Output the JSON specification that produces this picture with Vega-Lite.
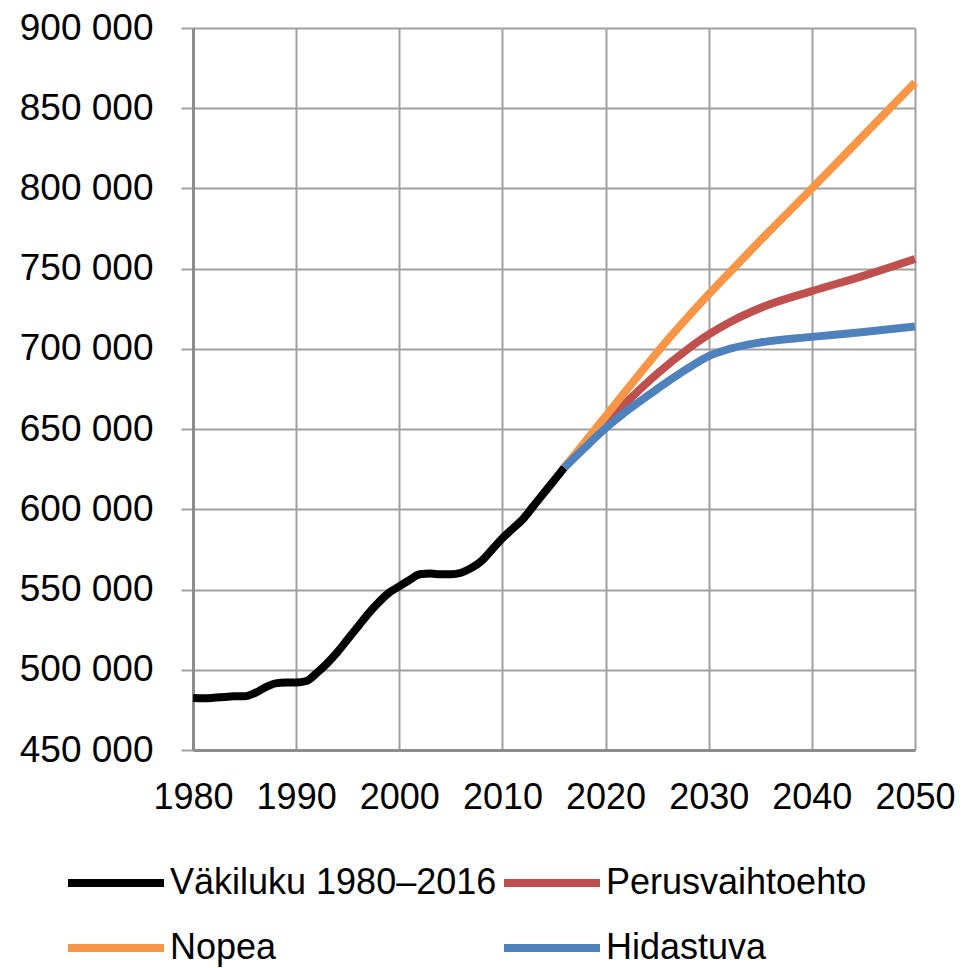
{
  "$schema": "https://vega.github.io/schema/vega-lite/v6.json",
  "width": 722,
  "height": 722,
  "autosize": {"type": "none"},
  "padding": {"left": 193, "top": 28, "right": 61, "bottom": 218},
  "background": "white",
  "config": {
    "view": {"stroke": null},
    "font": "Liberation Sans, Arial",
    "axis": {
      "labelFont": "Liberation Sans, Arial",
      "labelFontSize": 36,
      "labelColor": "#000000",
      "gridColor": "#a0a0a0",
      "gridWidth": 2,
      "gridOpacity": 1,
      "domainColor": "#8c8c8c",
      "domainWidth": 3,
      "tickColor": "#a0a0a0",
      "tickWidth": 2,
      "title": null
    }
  },
  "datasets": {
    "pop": [
      {"series": "Väkiluku 1980–2016", "year": 1980, "value": 482400},
      {"series": "Väkiluku 1980–2016", "year": 1981, "value": 482200},
      {"series": "Väkiluku 1980–2016", "year": 1982, "value": 482500},
      {"series": "Väkiluku 1980–2016", "year": 1983, "value": 483000},
      {"series": "Väkiluku 1980–2016", "year": 1984, "value": 483500},
      {"series": "Väkiluku 1980–2016", "year": 1985, "value": 483500},
      {"series": "Väkiluku 1980–2016", "year": 1986, "value": 485500},
      {"series": "Väkiluku 1980–2016", "year": 1987, "value": 489000},
      {"series": "Väkiluku 1980–2016", "year": 1988, "value": 491500},
      {"series": "Väkiluku 1980–2016", "year": 1989, "value": 492000},
      {"series": "Väkiluku 1980–2016", "year": 1990, "value": 492000},
      {"series": "Väkiluku 1980–2016", "year": 1991, "value": 493000},
      {"series": "Väkiluku 1980–2016", "year": 1992, "value": 498000},
      {"series": "Väkiluku 1980–2016", "year": 1993, "value": 504000},
      {"series": "Väkiluku 1980–2016", "year": 1994, "value": 511000},
      {"series": "Väkiluku 1980–2016", "year": 1995, "value": 519000},
      {"series": "Väkiluku 1980–2016", "year": 1996, "value": 527000},
      {"series": "Väkiluku 1980–2016", "year": 1997, "value": 535000},
      {"series": "Väkiluku 1980–2016", "year": 1998, "value": 542000},
      {"series": "Väkiluku 1980–2016", "year": 1999, "value": 548000},
      {"series": "Väkiluku 1980–2016", "year": 2000, "value": 552000},
      {"series": "Väkiluku 1980–2016", "year": 2001, "value": 556000},
      {"series": "Väkiluku 1980–2016", "year": 2002, "value": 559500},
      {"series": "Väkiluku 1980–2016", "year": 2003, "value": 560000},
      {"series": "Väkiluku 1980–2016", "year": 2004, "value": 559500},
      {"series": "Väkiluku 1980–2016", "year": 2005, "value": 559500},
      {"series": "Väkiluku 1980–2016", "year": 2006, "value": 560500},
      {"series": "Väkiluku 1980–2016", "year": 2007, "value": 563500},
      {"series": "Väkiluku 1980–2016", "year": 2008, "value": 568000},
      {"series": "Väkiluku 1980–2016", "year": 2009, "value": 575000},
      {"series": "Väkiluku 1980–2016", "year": 2010, "value": 582000},
      {"series": "Väkiluku 1980–2016", "year": 2011, "value": 588000},
      {"series": "Väkiluku 1980–2016", "year": 2012, "value": 594000},
      {"series": "Väkiluku 1980–2016", "year": 2013, "value": 602000},
      {"series": "Väkiluku 1980–2016", "year": 2014, "value": 610000},
      {"series": "Väkiluku 1980–2016", "year": 2015, "value": 618000},
      {"series": "Väkiluku 1980–2016", "year": 2016, "value": 626000},
      {"series": "Perusvaihtoehto", "year": 2016, "value": 626000},
      {"series": "Perusvaihtoehto", "year": 2018, "value": 640000},
      {"series": "Perusvaihtoehto", "year": 2020, "value": 653500},
      {"series": "Perusvaihtoehto", "year": 2022, "value": 666500},
      {"series": "Perusvaihtoehto", "year": 2025, "value": 684500},
      {"series": "Perusvaihtoehto", "year": 2028, "value": 700000},
      {"series": "Perusvaihtoehto", "year": 2030, "value": 709000},
      {"series": "Perusvaihtoehto", "year": 2032, "value": 716500},
      {"series": "Perusvaihtoehto", "year": 2035, "value": 725500},
      {"series": "Perusvaihtoehto", "year": 2040, "value": 736000},
      {"series": "Perusvaihtoehto", "year": 2045, "value": 745500},
      {"series": "Perusvaihtoehto", "year": 2050, "value": 756000},
      {"series": "Nopea", "year": 2016, "value": 626000},
      {"series": "Nopea", "year": 2018, "value": 642000},
      {"series": "Nopea", "year": 2020, "value": 658000},
      {"series": "Nopea", "year": 2022, "value": 674000},
      {"series": "Nopea", "year": 2024, "value": 690000},
      {"series": "Nopea", "year": 2026, "value": 705500},
      {"series": "Nopea", "year": 2028, "value": 720000},
      {"series": "Nopea", "year": 2030, "value": 734000},
      {"series": "Nopea", "year": 2032, "value": 747500},
      {"series": "Nopea", "year": 2035, "value": 767500},
      {"series": "Nopea", "year": 2040, "value": 800000},
      {"series": "Nopea", "year": 2045, "value": 833000},
      {"series": "Nopea", "year": 2050, "value": 866000},
      {"series": "Hidastuva", "year": 2016, "value": 626000},
      {"series": "Hidastuva", "year": 2018, "value": 638500},
      {"series": "Hidastuva", "year": 2020, "value": 650500},
      {"series": "Hidastuva", "year": 2022, "value": 661000},
      {"series": "Hidastuva", "year": 2025, "value": 675000},
      {"series": "Hidastuva", "year": 2028, "value": 688000},
      {"series": "Hidastuva", "year": 2030, "value": 695500},
      {"series": "Hidastuva", "year": 2032, "value": 700000},
      {"series": "Hidastuva", "year": 2035, "value": 704000},
      {"series": "Hidastuva", "year": 2040, "value": 707500},
      {"series": "Hidastuva", "year": 2045, "value": 710500},
      {"series": "Hidastuva", "year": 2050, "value": 714000}
    ]
  },
  "data": {"name": "pop"},
  "encoding": {
    "x": {
      "field": "year",
      "type": "quantitative",
      "scale": {"domain": [1980, 2050], "nice": false, "zero": false},
      "axis": {
        "values": [1980, 1990, 2000, 2010, 2020, 2030, 2040, 2050],
        "format": "d",
        "ticks": false,
        "labelPadding": 30,
        "labelDx": -3,
        "labelFlush": false,
        "labelOverlap": false
      }
    },
    "y": {
      "field": "value",
      "type": "quantitative",
      "scale": {"domain": [450000, 900000], "nice": false, "zero": false},
      "axis": {
        "values": [450000, 500000, 550000, 600000, 650000, 700000, 750000, 800000, 850000, 900000],
        "labelExpr": "replace(format(datum.value, ','), ',', ' ')",
        "labelFontSize": 37,
        "tickSize": 12,
        "labelPadding": 28,
        "labelDy": -5,
        "labelFlush": false,
        "labelOverlap": false
      }
    },
    "color": {
      "field": "series",
      "type": "nominal",
      "scale": {
        "domain": ["Väkiluku 1980–2016", "Perusvaihtoehto", "Nopea", "Hidastuva"],
        "range": ["#000000", "#c0504d", "#f79646", "#4f81bd"]
      },
      "legend": {
        "title": null,
        "orient": "none",
        "legendX": -97,
        "legendY": 835,
        "direction": "horizontal",
        "columns": 2,
        "symbolType": "M-3,0H3",
        "symbolSize": 1024,
        "symbolStrokeWidth": 8,
        "symbolFillColor": "transparent",
        "labelFont": "Liberation Sans, Arial",
        "labelFontSize": 36,
        "labelColor": "#000000",
        "labelOffset": 34,
        "labelLimit": 0,
        "rowPadding": 27,
        "columnPadding": -9,
        "padding": 0
      }
    }
  },
  "layer": [
    {"transform": [{"filter": "datum.series === 'Väkiluku 1980–2016'"}], "mark": {"type": "line", "strokeWidth": 8, "interpolate": "monotone"}},
    {"transform": [{"filter": "datum.series === 'Perusvaihtoehto'"}], "mark": {"type": "line", "strokeWidth": 8, "interpolate": "monotone"}},
    {"transform": [{"filter": "datum.series === 'Nopea'"}], "mark": {"type": "line", "strokeWidth": 8, "interpolate": "monotone"}},
    {"transform": [{"filter": "datum.series === 'Hidastuva'"}], "mark": {"type": "line", "strokeWidth": 8, "interpolate": "monotone"}}
  ]
}
